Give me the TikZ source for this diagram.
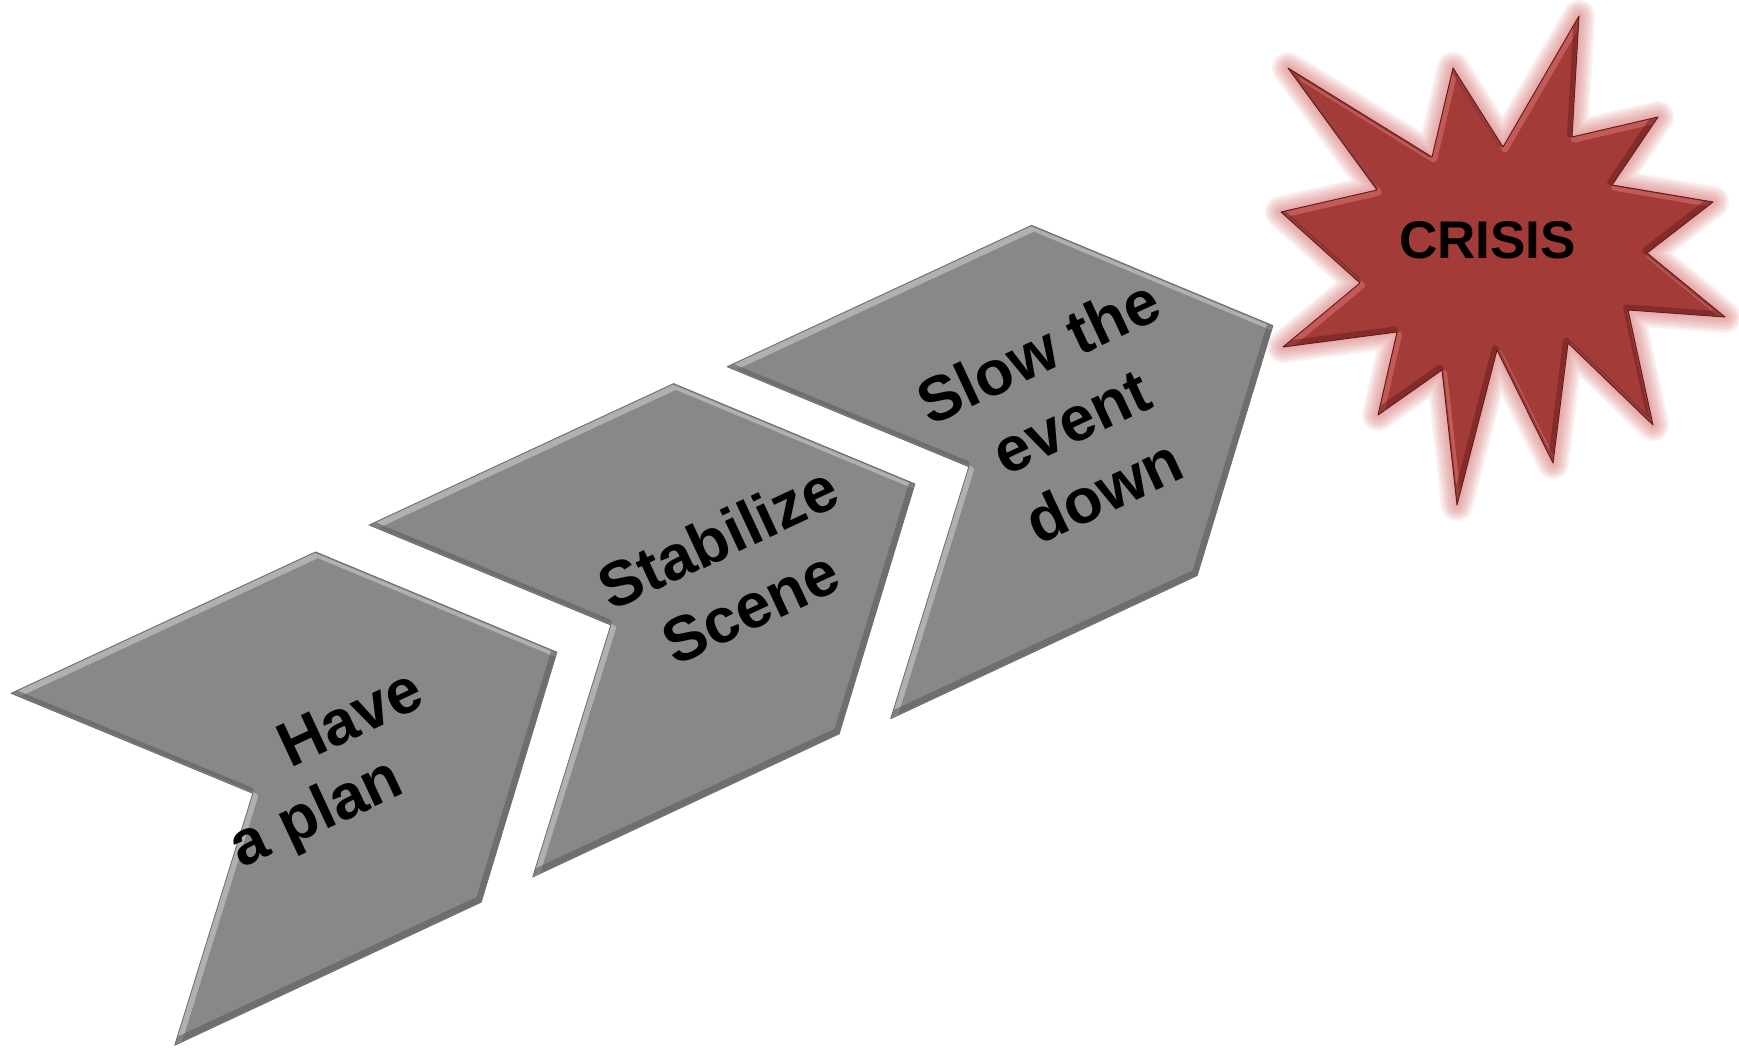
\documentclass[tikz,border=0pt]{standalone}
\usepackage{fontspec}
\setmainfont{Liberation Sans}

\definecolor{chevgray}{RGB}{136,136,136}
\definecolor{chevlight}{RGB}{186,186,186}
\definecolor{chevdark}{RGB}{90,90,90}
\definecolor{chevrim}{RGB}{112,112,112}
\definecolor{burstred}{RGB}{163,59,57}
\definecolor{burstlight}{RGB}{208,104,100}
\definecolor{burstdark}{RGB}{98,27,26}
\definecolor{burstglow}{RGB}{214,118,118}

\tikzset{
  % one step of the staircase: an arrow-like chevron, started at its left tip
  chevronpath/.style={insert path={
      -- ++(304.5,-141.4) -- ++(241.3,100.3) -- ++(-75.7,250)
      -- ++(-306.5,143.1) -- ++(78.1,-252) -- cycle}},
  % the starburst outline
  burstpath/.style={insert path={
      (1579,16) -- (1572,137) -- (1658,117) -- (1612,185) -- (1713,202)
      -- (1647,253) -- (1725,317) -- (1628,310) -- (1653,425) -- (1568,343)
      -- (1553,463) -- (1497,350) -- (1457,505) -- (1442,370) -- (1378,415)
      -- (1397,332) -- (1283,347) -- (1360,283) -- (1281,212) -- (1377,190)
      -- (1288,68) -- (1432,157) -- (1453,68) -- (1503,147) -- cycle}},
  steplabel/.style={font=\bfseries\fontsize{63}{77}\selectfont,
      align=center, rotate=25, inner sep=0pt, text=black},
  burstlabel/.style={font=\bfseries\fontsize{53}{64}\selectfont,
      inner sep=0pt, text=black},
}

\begin{document}
\begin{tikzpicture}[x=1pt,y=-1pt]
\useasboundingbox (0,0) rectangle (1739,1048);

% the three steps, each with a soft bevel: light rim up-left, dark rim down-right
\foreach \x/\y in {11.1/693.3, 369.1/525.0, 727.1/366.7}{
  \fill[chevgray] (\x,\y) [chevronpath];
  \begin{scope}
    \clip (\x,\y) [chevronpath];
    \draw[chevlight, line width=6pt, opacity=0.8, line join=round,
          shift={(2.2,3.0)}] (\x,\y) [chevronpath];
    \draw[chevdark, line width=6pt, opacity=0.55, line join=round,
          shift={(-2.2,-3.0)}] (\x,\y) [chevronpath];
  \end{scope}
  \draw[chevrim, line width=0.8pt, line join=round] (\x,\y) [chevronpath];
}

% the starburst: pink halo, red body, bevelled rim
\foreach \w in {32,28,24,20,16,12,8,4}{
  \draw[burstglow, opacity=0.11, line width=\w pt, line join=round] [burstpath];
}
\fill[burstred] [burstpath];
\begin{scope}
  \clip [burstpath];
  \draw[burstlight, line width=6pt, opacity=0.7, line join=round,
        shift={(2.0,2.6)}] [burstpath];
  \draw[burstdark, line width=6pt, opacity=0.45, line join=round,
        shift={(-2.0,-2.6)}] [burstpath];
\end{scope}
\draw[burstdark, line width=0.9pt, line join=round] [burstpath];

% labels
\node[steplabel] (have) at (303,785) {\hspace*{142pt}Have\\[-7pt]a plan};
\node[steplabel] (stabilize) at (734,572) {Stabilize\\Scene};
\node[steplabel] (slow) at (1071,421) {Slow the\\event\\down};
\node[burstlabel] (crisis) at (1487.5,240.5) {CRISIS};
\end{tikzpicture}
\end{document}
